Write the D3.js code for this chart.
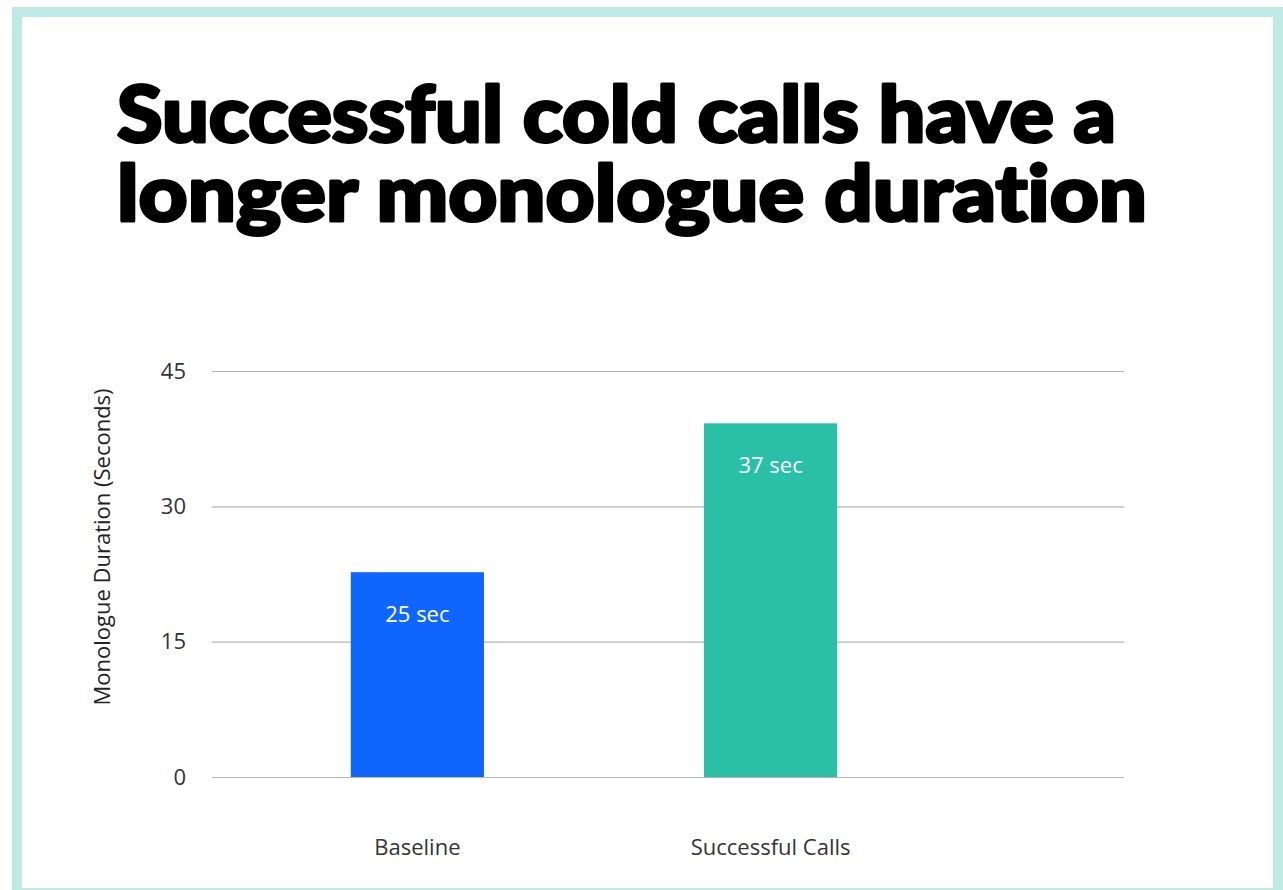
<!DOCTYPE html>
<html>
<head>
<meta charset="utf-8">
<script src="https://cdn.jsdelivr.net/npm/d3@7"></script>
<style>
    html, body { margin: 0; padding: 0; background: #fff; }
    svg { display: block; }
    text { font-variant-ligatures: none; }
</style>
</head>
<body>
<svg width="1283" height="890"></svg>
<script>
// chart data
const categories = ["Baseline", "Successful Calls"];
const durations = [22.7, 39.2];
const barLabels = ["25 sec", "37 sec"];
const yTicks = [0, 15, 30, 45];
const barColors = ["#0f66ff", "#2abfa7"];
const titleLines = ["Successful cold calls have a", "longer monologue duration"];

const svg = d3.select("svg"),
    width = +svg.attr("width"),
    height = +svg.attr("height");

const bodyFont = "'Open Sans', sans-serif";

// teal frame
svg.append("rect")
    .attr("x", 17).attr("y", 12)
    .attr("width", width - 17 - 5).attr("height", height - 12 + 3)
    .attr("fill", "#fff")
    .attr("stroke", "#bfeae3")
    .attr("stroke-width", 10);

// title (one text, two lines), stretched to the width of the original
const titleWidths = [999, 1030];
svg.append("text")
    .attr("class", "title")
    .style("font-family", "Lato, sans-serif")
    .style("font-weight", 900)
    .style("font-size", "79px")
    .style("fill", "#000")
    .style("stroke", "#000")
    .style("stroke-width", 3)
    .style("stroke-linejoin", "round")
    .selectAll("tspan")
    .data(titleLines)
    .enter().append("tspan")
    .attr("x", 117)
    .attr("y", (d, i) => 142 + i * 79)
    .attr("textLength", (d, i) => titleWidths[i])
    .attr("lengthAdjust", "spacingAndGlyphs")
    .text(d => d);

const y = d3.scaleLinear().domain([0, 45]).range([777, 371]);
const x = d3.scaleBand().domain(categories).range([212, 976])
    .paddingInner(0.623).paddingOuter(0.393);

// grid lines + tick labels
const yAxis = svg.append("g")
    .attr("transform", "translate(212,0)")
    .call(d3.axisLeft(y).tickValues(yTicks).tickSize(-912).tickPadding(26));
yAxis.select(".domain").remove();
yAxis.selectAll(".tick line").attr("stroke", "#b5b5b5").attr("stroke-width", 1.2);
yAxis.selectAll(".tick text")
    .style("font-family", bodyFont)
    .style("font-size", "22px")
    .style("fill", "#333");

svg.append("text")
    .attr("transform", "translate(110,547) rotate(-90)")
    .attr("text-anchor", "middle")
    .style("font-family", bodyFont)
    .style("font-size", "22px")
    .style("fill", "#222")
    .text("Monologue Duration (Seconds)");

// bars
svg.selectAll(".bar")
    .data(durations)
    .enter().append("rect")
    .attr("class", "bar")
    .attr("x", (d, i) => x(categories[i]))
    .attr("y", d => y(d))
    .attr("width", x.bandwidth())
    .attr("height", d => y(0) - y(d))
    .attr("fill", (d, i) => barColors[i]);

svg.selectAll(".bar-label")
    .data(durations)
    .enter().append("text")
    .attr("class", "bar-label")
    .attr("x", (d, i) => x(categories[i]) + x.bandwidth() / 2)
    .attr("y", d => y(d) + 50)
    .attr("text-anchor", "middle")
    .style("font-family", bodyFont)
    .style("font-size", "22px")
    .style("fill", "#fff")
    .text((d, i) => barLabels[i]);

// category labels
const xAxis = svg.append("g")
    .attr("transform", "translate(0,777)")
    .call(d3.axisBottom(x).tickSize(0).tickPadding(62));
xAxis.select(".domain").remove();
xAxis.selectAll(".tick text")
    .style("font-family", bodyFont)
    .style("font-size", "22px")
    .style("fill", "#333");
</script>
</body>
</html>
